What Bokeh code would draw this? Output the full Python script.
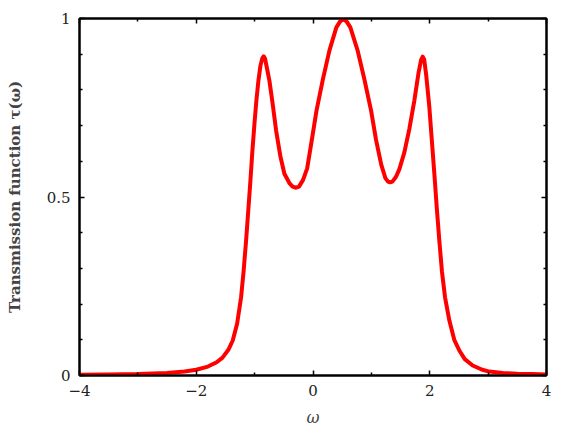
from bokeh.plotting import figure
from bokeh.models import Range1d, LinearAxis, FixedTicker, CustomLabelingPolicy
from bokeh.embed import file_html
from bokeh.resources import INLINE

# Transmission function data
omega = [-4.0, -3.5, -3.0, -2.5, -2.2, -2.0, -1.8, -1.65, -1.55, -1.45, -1.375, -1.30,
         -1.232, -1.19, -1.146, -1.11, -1.072, -1.04, -1.003, -0.97, -0.935, -0.90,
         -0.868, -0.844, -0.822, -0.79, -0.747, -0.69, -0.632, -0.56, -0.49, -0.40,
         -0.35, -0.29, -0.24, -0.17, -0.10, -0.02, 0.06, 0.17, 0.281, 0.40, 0.465, 0.52,
         0.575, 0.64, 0.765, 0.88, 0.995, 1.08, 1.17, 1.24, 1.285, 1.32, 1.36, 1.42,
         1.48, 1.565, 1.65, 1.736, 1.81, 1.852, 1.879, 1.905, 1.94, 1.993, 2.035, 2.079,
         2.12, 2.164, 2.21, 2.262, 2.336, 2.42, 2.507, 2.6, 2.735, 2.9, 3.02, 3.25, 3.5,
         3.75, 4.0]
tau = [0.002, 0.003, 0.004, 0.007, 0.011, 0.016, 0.025, 0.037, 0.05, 0.072, 0.098, 0.145,
       0.219, 0.29, 0.378, 0.46, 0.546, 0.625, 0.705, 0.77, 0.826, 0.868,
       0.889, 0.894, 0.888, 0.862, 0.826, 0.76, 0.686, 0.615, 0.565, 0.538,
       0.529, 0.526, 0.529, 0.548, 0.58, 0.66, 0.742, 0.83, 0.91, 0.975, 0.992, 0.998,
       0.992, 0.975, 0.91, 0.83, 0.742, 0.66, 0.59, 0.553, 0.543, 0.541, 0.543, 0.556,
       0.578, 0.625, 0.69, 0.77, 0.85, 0.884, 0.893, 0.885, 0.84, 0.752, 0.66, 0.565,
       0.47, 0.378, 0.29, 0.219, 0.154, 0.10, 0.07, 0.046, 0.028, 0.016, 0.011, 0.007, 0.005,
       0.004, 0.003]

x_ticks = [-4, -2, 0, 2, 4]
x_tick_labels = ["\u22124", "\u22122", "0", "2", "4"]
x_minor = [-3, -1, 1, 3]
y_ticks = [0, 0.5, 1]
y_tick_labels = ["0", "0.5", "1"]
y_minor = [0.1, 0.2, 0.3, 0.4, 0.6, 0.7, 0.8, 0.9]

FONT = "DejaVu Serif"

p = figure(frame_width=467, frame_height=357, output_backend="svg", toolbar_location=None,
           x_range=Range1d(-4, 4), y_range=Range1d(0, 1),
           min_border_left=79, min_border_right=26, min_border_top=18, min_border_bottom=57)
p.xgrid.visible = False
p.ygrid.visible = False
p.outline_line_color = "black"
p.outline_line_width = 2
p.background_fill_color = "white"
p.border_fill_color = "white"

p.line(omega, tau, line_color="#ff0000", line_width=4, line_join="round")

no_labels = CustomLabelingPolicy(code="""
    for (const i of indices) indices.unset(i)
    return indices
""")

def style(ax, ticks, minor, labels, show_labels):
    ax.ticker = FixedTicker(ticks=ticks, minor_ticks=minor)
    ax.axis_line_color = "black"
    ax.axis_line_width = 2
    ax.major_tick_in = 5
    ax.major_tick_out = 0
    ax.minor_tick_in = 3
    ax.minor_tick_out = 0
    ax.major_tick_line_width = 1.5
    ax.minor_tick_line_width = 1.5
    ax.major_tick_line_color = "black"
    ax.minor_tick_line_color = "black"
    if show_labels:
        ax.major_label_overrides = {t: l for t, l in zip(ticks, labels)}
        ax.major_label_text_font = FONT
        ax.major_label_text_font_size = "15px"
        ax.major_label_text_color = "#222222"
        ax.major_label_standoff = 9
    else:
        ax.major_label_policy = no_labels
        ax.major_label_standoff = 0

xa = p.xaxis[0]
style(xa, x_ticks, x_minor, x_tick_labels, True)
xa.axis_label = "\u03c9"
xa.axis_label_text_font = FONT
xa.axis_label_text_font_style = "italic"
xa.axis_label_text_font_size = "16px"
xa.axis_label_standoff = 9

ya = p.yaxis[0]
style(ya, y_ticks, y_minor, y_tick_labels, True)
ya.axis_label = "Transmission function \u03c4(\u03c9)"
ya.axis_label_text_font = FONT
ya.axis_label_text_font_style = "bold"
ya.axis_label_text_font_size = "15px"
ya.axis_label_standoff = 20

top = LinearAxis()
style(top, x_ticks, x_minor, x_tick_labels, False)
p.add_layout(top, "above")
right = LinearAxis()
style(right, y_ticks, y_minor, y_tick_labels, False)
p.add_layout(right, "right")

open("out.html", "w").write(file_html(p, INLINE))
